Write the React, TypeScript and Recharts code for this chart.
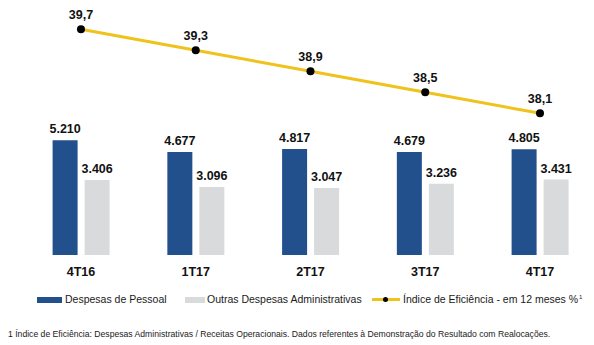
import React from 'react';
import { ComposedChart, Bar, Line, XAxis, YAxis, LabelList } from 'recharts';

const categories = ['4T16', '1T17', '2T17', '3T17', '4T17'];
const despesasPessoal = [5210, 4677, 4817, 4679, 4805];
const outrasDespesas = [3406, 3096, 3047, 3236, 3431];
const indiceEficiencia = [39.7, 39.3, 38.9, 38.5, 38.1];

const data = categories.map((c, i) => ({
  cat: c,
  pessoal: despesasPessoal[i],
  outras: outrasDespesas[i],
  indice: indiceEficiencia[i],
}));

const FONT = '"Liberation Sans", Arial, Helvetica, sans-serif';
const DARK = '#22508C';
const LIGHT = '#D9DADC';
const YELLOW = '#EFC31C';

const fmtThousands = (v: any) => {
  const n = Number(v);
  const th = Math.floor(n / 1000);
  const rest = String(n % 1000).padStart(3, '0');
  return th > 0 ? `${th}.${rest}` : String(n);
};
const fmtDecimal = (v: any) => Number(v).toFixed(1).replace('.', ',');

const Dot = (props: any) => {
  const { cx, cy } = props;
  if (cx == null || cy == null) return null;
  return <circle cx={cx} cy={cy} r={4} fill="#000" />;
};

export default function App() {
  const labelStyle = { fontFamily: FONT, fontSize: 12.5, fontWeight: 700, fill: '#111' };
  const legendText: React.CSSProperties = {
    position: 'absolute',
    top: 293,
    height: 13,
    lineHeight: '13px',
    fontSize: 10.5,
    fontFamily: FONT,
    color: '#1a1a1a',
    whiteSpace: 'nowrap',
  };
  return (
    <div style={{ position: 'fixed', left: 0, top: 0, width: 594, height: 345, overflow: 'hidden', background: '#fff' }}>
      <ComposedChart
        width={600}
        height={280}
        data={data}
        margin={{ top: 20, right: 2.65, left: 23.6, bottom: 0 }}
        barGap={7}
      >
        <XAxis
          dataKey="cat"
          height={25}
          axisLine={false}
          tickLine={false}
          tickMargin={6}
          tick={{ fontFamily: FONT, fontSize: 12.5, fontWeight: 700, fill: '#111' }}
          interval={0}
        />
        <YAxis yAxisId="bars" hide domain={[0, 10680]} allowDataOverflow />
        <YAxis yAxisId="line" hide domain={[35.401, 39.877]} allowDataOverflow orientation="right" />
        <Bar yAxisId="bars" dataKey="pessoal" fill={DARK} barSize={25} isAnimationActive={false}>
          <LabelList dataKey="pessoal" position="top" offset={7} formatter={fmtThousands} style={labelStyle} />
        </Bar>
        <Bar yAxisId="bars" dataKey="outras" fill={LIGHT} barSize={25} isAnimationActive={false}>
          <LabelList dataKey="outras" position="top" offset={7} formatter={fmtThousands} style={labelStyle} />
        </Bar>
        <Line
          yAxisId="line"
          dataKey="indice"
          stroke={YELLOW}
          strokeWidth={3}
          dot={<Dot />}
          activeDot={false}
          isAnimationActive={false}
        >
          <LabelList dataKey="indice" position="top" offset={10} formatter={fmtDecimal} style={labelStyle} />
        </Line>
      </ComposedChart>

      {/* Legend */}
      <div style={{ position: 'absolute', left: 37, top: 296.5, width: 25, height: 6, background: DARK }} />
      <div style={{ ...legendText, left: 65 }}>Despesas de Pessoal</div>
      <div style={{ position: 'absolute', left: 185, top: 296.5, width: 20, height: 6, background: LIGHT }} />
      <div style={{ ...legendText, left: 207 }}>Outras Despesas Administrativas</div>
      <div style={{ position: 'absolute', left: 372, top: 298, width: 28, height: 3, background: YELLOW }} />
      <div style={{ position: 'absolute', left: 382.5, top: 297, width: 5, height: 5, borderRadius: '50%', background: '#000' }} />
      <div style={{ ...legendText, left: 403 }}>
        Índice de Eficiência - em 12 meses %<span style={{ fontSize: 6, verticalAlign: 'top', lineHeight: '9px', marginLeft: 1 }}>1</span>
      </div>

      {/* Footnote */}
      <div
        style={{
          position: 'absolute',
          left: 8,
          top: 327.5,
          height: 12,
          lineHeight: '12px',
          fontSize: 8.65,
          fontFamily: FONT,
          color: '#1a1a1a',
          whiteSpace: 'nowrap',
        }}
      >
        1 Índice de Eficiência: Despesas Administrativas / Receitas Operacionais. Dados referentes à Demonstração do Resultado com Realocações.
      </div>
    </div>
  );
}
